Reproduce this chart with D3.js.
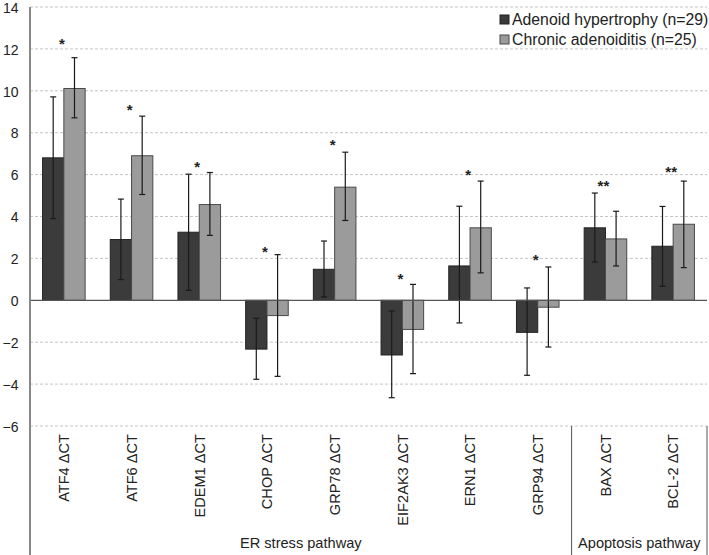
<!DOCTYPE html>
<html><head><meta charset="utf-8">
<script src="https://cdn.jsdelivr.net/npm/d3@7"></script>
<style>body{margin:0;background:#fff}svg{display:block;font-family:"Liberation Sans",Arial,sans-serif}</style>
</head><body><svg id="c" width="709" height="555"></svg>
<script>
const categories = ["ATF4 ΔCT","ATF6 ΔCT","EDEM1 ΔCT","CHOP ΔCT","GRP78 ΔCT","EIF2AK3 ΔCT","ERN1 ΔCT","GRP94 ΔCT","BAX ΔCT","BCL-2 ΔCT"];
const seriesNames = ["Adenoid hypertrophy (n=29)","Chronic adenoiditis (n=25)"];
const hypertrophy     = [6.8, 2.9, 3.25, -2.33, 1.48, -2.61, 1.64, -1.53, 3.46, 2.58];
const hypertrophyLow  = [3.9, 0.99, 0.48, -3.77, 0.16, -4.65, -1.08, -3.58, 1.83, 0.67];
const hypertrophyHigh = [9.71, 4.83, 6.02, -0.86, 2.83, -0.51, 4.49, 0.59, 5.12, 4.48];
const adenoiditis     = [10.11, 6.9, 4.57, -0.73, 5.4, -1.39, 3.46, -0.33, 2.93, 3.63];
const adenoiditisLow  = [8.71, 5.05, 3.1, -3.63, 3.81, -3.5, 1.31, -2.23, 1.64, 1.56];
const adenoiditisHigh = [11.58, 8.79, 6.1, 2.18, 7.07, 0.76, 5.69, 1.59, 4.25, 5.69];
const significance = ["*","*","*","*","*","*","*","*","**","**"];
const significanceY = [12.35, 9.2, 6.48, 2.39, 7.49, 1.1, 6.1, 2.02, 5.53, 6.21];
const yTicks = [-6,-4,-2,0,2,4,6,8,10,12,14];
const groups = [{name:"ER stress pathway", from:0, to:7},{name:"Apoptosis pathway", from:8, to:9}];

const colors = ["#3b3b3b","#9b9b9b"];
const strokes = ["#222","#4a4a4a"];
const svg = d3.select("#c");
const L = 30, R = 707, T = 7, B = 426;
const y = d3.scaleLinear().domain([-6,14]).range([B,T]);
const x0 = d3.scaleBand().domain(categories).range([L,R]).padding(0);
const x1 = d3.scaleBand().domain([0,1]).range([0,x0.bandwidth()]).paddingInner(0).paddingOuter(0.59);

// grid
svg.append("g").selectAll("line").data(yTicks.filter(d=>d!==0)).join("line")
  .attr("x1",L).attr("x2",R).attr("y1",d=>y(d)).attr("y2",d=>y(d))
  .attr("stroke","#c4c4c4").attr("stroke-width",1).attr("stroke-dasharray","3,2");

// y axis labels
const yAxis = d3.axisLeft(y).tickValues(yTicks).tickSize(0).tickPadding(0).tickFormat(d3.format("d"));
const ga = svg.append("g").attr("transform",`translate(18.5,0.8)`).call(yAxis);
ga.select(".domain").remove();
ga.selectAll("text").attr("font-size",14).attr("fill","#222").attr("font-family","Liberation Sans, Arial, sans-serif");

// bars
const data = categories.map((c,i)=>({c, vals:[
  {s:0,v:hypertrophy[i],lo:hypertrophyLow[i],hi:hypertrophyHigh[i]},
  {s:1,v:adenoiditis[i],lo:adenoiditisLow[i],hi:adenoiditisHigh[i]}]}));
const g = svg.append("g").selectAll("g").data(data).join("g").attr("transform",d=>`translate(${x0(d.c)},0)`);
g.selectAll("rect").data(d=>d.vals).join("rect")
  .attr("x",d=>x1(d.s)).attr("width",x1.bandwidth())
  .attr("y",d=>y(Math.max(0,d.v))).attr("height",d=>Math.abs(y(d.v)-y(0)))
  .attr("fill",d=>colors[d.s]).attr("stroke",d=>strokes[d.s]).attr("stroke-width",1);

// zero line
svg.append("line").attr("x1",L).attr("x2",R).attr("y1",y(0)).attr("y2",y(0)).attr("stroke","#555").attr("stroke-width",1.3);

// error bars
const eb = g.selectAll("g.eb").data(d=>d.vals).join("g").attr("class","eb")
  .attr("transform",d=>`translate(${x1(d.s)+x1.bandwidth()/2},0)`);
eb.append("line").attr("y1",d=>y(d.lo)).attr("y2",d=>y(d.hi)).attr("stroke","#1a1a1a").attr("stroke-width",1.2);
eb.append("line").attr("x1",-3).attr("x2",3).attr("y1",d=>y(d.lo)).attr("y2",d=>y(d.lo)).attr("stroke","#1a1a1a").attr("stroke-width",1.2);
eb.append("line").attr("x1",-3).attr("x2",3).attr("y1",d=>y(d.hi)).attr("y2",d=>y(d.hi)).attr("stroke","#1a1a1a").attr("stroke-width",1.2);

// significance stars
svg.append("g").selectAll("text").data(categories).join("text")
  .attr("x",d=>x0(d)+x0.bandwidth()/2-2).attr("y",(d,i)=>y(significanceY[i])+7)
  .attr("text-anchor","middle").attr("font-size",15).attr("font-weight","bold").attr("fill","#222")
  .text((d,i)=>significance[i]);

// axis left line
svg.append("line").attr("x1",L).attr("x2",L).attr("y1",T).attr("y2",555).attr("stroke","#888").attr("stroke-width",2);

// category labels
svg.append("g").selectAll("text").data(categories).join("text")
  .attr("transform",d=>`translate(${x0(d)+x0.bandwidth()/2},434) rotate(-90)`)
  .attr("text-anchor","end").attr("dy","0.36em").attr("font-size",14.6).attr("fill","#222")
  .text(d=>d);

// group separators and labels
const sepX = [x0(categories[groups[1].from]), R];
svg.append("g").selectAll("line").data(sepX).join("line")
  .attr("x1",d=>d).attr("x2",d=>d).attr("y1",B).attr("y2",555).attr("stroke","#555").attr("stroke-width",1);
svg.append("g").selectAll("text").data(groups).join("text")
  .attr("x",d=>(x0(categories[d.from]) + x0(categories[d.to]) + x0.bandwidth())/2)
  .attr("y",548).attr("text-anchor","middle").attr("font-size",14.6).attr("fill","#222").text(d=>d.name);

// legend
const lg = svg.append("g").selectAll("g").data(seriesNames).join("g").attr("transform",(d,i)=>`translate(500,${15+i*20})`);
lg.append("rect").attr("width",9).attr("height",9).attr("fill",(d,i)=>colors[i]).attr("stroke",(d,i)=>strokes[i]).attr("stroke-width",1);
lg.append("text").attr("x",12).attr("y",4.5).attr("dy","0.36em").attr("font-size",15.8).attr("fill","#222").text(d=>d);
</script></body></html>
